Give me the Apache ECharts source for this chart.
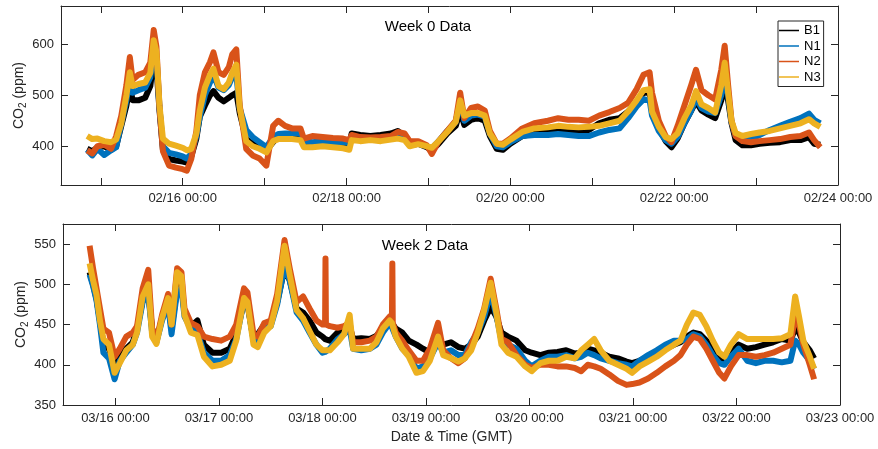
<!DOCTYPE html>
<html><head><meta charset="utf-8">
<script src="https://cdn.jsdelivr.net/npm/echarts@6/dist/echarts.min.js"></script>
<style>html,body{margin:0;padding:0;background:#fff}#c{width:878px;height:449px}</style>
</head><body><div id="c"></div>
<script>
// ---------- DATA ----------
const seriesNames = ['B1', 'N1', 'N2', 'N3'];
const seriesColors = ['#000000', '#0072BD', '#D95319', '#EDB120'];
const dataYear = 2021;

// Week 0: hours since 02/14 00:00 GMT
const week0Start = '02/14 00:00';
const week0Hours = [20,21.5,23,25,27,28.5,30,31.5,32.5,33.3,35,37,38.5,39.5,40.3,41.2,42.2,44,46,48,49.2,50.5,52,53,54.5,56,57,58.5,60,61.5,62.5,63.7,64.7,66.6,68.5,70.5,72.5,74.5,76,78,80,82.5,83.5,86,89,92,95,96.8,97.5,100,103,106,109,111,113,114.5,117,119.5,121,123,125.5,128,129.3,130.5,132.5,134.5,136.5,138,140,141.8,144,147.5,151,155,158,161,164,167,170,173,176,178.5,181,183,184.8,185.5,187.5,189.5,191.2,193,195,197,198.4,200,202,204,205.8,206.8,207.8,208.8,210,212,214.5,217,220,223,226,229,231.5,233,234.8];
const week0B1 = [395,390,398,400,393,400,440,480,520,490,490,495,518,572,555,470,393,375,372,370,368,380,415,458,480,500,508,495,488,495,500,505,465,414,405,400,392,408,420,418,418,418,410,405,408,407,405,405,425,422,420,422,425,430,420,402,405,398,392,405,425,440,470,442,452,455,450,420,395,393,405,420,425,428,432,432,430,432,445,452,455,468,485,505,505,470,435,410,398,415,445,470,488,470,462,455,490,517,490,445,412,402,402,405,407,408,412,412,418,405,403];
const week0N1 = [393,382,395,383,392,398,445,490,535,505,510,515,535,590,575,475,400,387,384,380,376,385,420,458,500,525,540,515,510,520,535,540,475,432,418,408,398,418,424,425,425,425,410,408,410,408,408,406,418,416,415,416,418,420,415,405,405,400,396,410,430,448,490,450,460,462,458,425,400,398,408,420,422,422,424,422,420,420,427,432,435,455,478,492,490,460,430,412,405,418,445,470,495,475,468,465,500,540,500,448,420,412,414,422,432,440,448,455,464,452,445];
const week0N2 = [392,386,400,403,395,420,460,520,575,530,540,545,564,628,595,475,390,362,358,355,352,375,430,500,545,565,584,545,540,555,580,590,480,395,382,376,362,440,450,440,435,435,415,420,418,416,415,412,422,418,417,418,420,428,425,410,410,402,385,410,430,450,505,455,475,478,470,430,405,405,415,435,445,450,455,452,452,450,460,467,475,485,512,540,545,505,450,420,408,440,480,520,550,510,500,492,550,597,520,450,420,410,408,410,412,414,418,420,427,412,398];
const week0N3 = [420,414,415,410,408,413,445,500,545,518,522,525,544,608,585,480,415,405,401,397,392,395,425,470,515,540,552,518,512,525,544,560,475,410,400,395,388,410,414,414,414,412,398,398,400,398,396,393,412,410,412,410,413,415,412,400,404,400,397,410,428,448,490,460,465,465,460,425,405,403,413,428,435,437,440,438,437,438,440,445,450,468,490,510,512,468,438,418,414,425,455,480,508,482,475,466,520,564,505,450,426,420,424,427,430,435,440,445,453,445,438];

// Week 2: hours since 03/15 00:00 GMT
const week2Start = '03/15 00:00';
const week2Hours = [18,18.8,19.6,20.4,21.2,22.5,23.8,25,26.5,28,29,30.3,31.6,32.5,33.5,34.8,36.2,37,38.3,39.3,40,41.5,43,44.5,46.5,48.5,50.5,52,53.8,54.6,56,57,58.5,60,61.5,63.2,64.4,66,67.5,69,70.6,72,72.6,72.7,72.8,73.7,75.5,77,78.3,79.1,81,83,84.5,86,87.6,88.1,88.2,88.3,89,90.5,92,93.8,95.3,96.9,98.8,100,101.8,103.5,105,106.5,108,109.5,111,112.3,113.5,115,117,119,120.5,122.5,124.5,126.5,128.5,130.5,132,133.5,135,136.5,138.5,140.5,142.5,143.8,145.5,147.5,149.5,151.5,153.5,155,156.5,158,159.5,161,162.5,164,165.2,166.7,168.5,170.5,172.5,174.5,176.5,178.5,180.5,181.6,182.5,183.5,185,186];
const week2B1 = [515,500,482,455,425,420,395,410,420,428,445,480,490,445,430,458,478,445,495,500,465,448,455,425,415,415,420,438,478,475,432,438,450,452,478,520,505,470,465,455,440,435,432,432,432,430,440,445,448,432,433,432,436,445,455,452,451,450,445,440,430,425,420,415,430,425,428,422,420,425,435,455,472,460,440,435,430,418,415,412,415,416,418,414,415,420,418,415,410,408,404,402,405,410,415,420,425,428,435,440,438,430,420,410,405,415,425,420,422,425,428,432,430,445,440,428,418,408];
const week2N1 = [512,498,480,450,415,408,382,405,415,425,440,478,488,440,428,455,475,438,492,495,460,445,440,415,405,405,412,432,480,478,430,430,445,448,475,522,505,465,455,440,425,415,416,416,417,420,432,438,445,420,418,420,425,440,452,447,446,444,435,420,412,395,398,408,428,415,418,412,412,428,440,460,490,462,430,425,420,405,398,405,410,410,412,408,410,415,412,408,405,402,400,398,405,412,418,425,430,430,432,438,435,425,412,402,400,410,420,405,402,405,405,403,405,430,425,415,405,395];
const week2N2 = [548,520,495,470,445,440,410,420,435,440,448,495,518,445,430,462,488,450,520,515,470,452,448,435,432,430,435,450,495,490,438,435,452,455,488,555,520,478,485,470,455,450,450,532,450,448,446,448,452,428,428,430,435,450,460,455,526,452,440,430,418,405,405,420,452,418,408,402,408,425,445,470,507,470,432,428,412,400,396,400,400,398,398,396,392,400,398,395,388,380,375,376,378,383,390,398,405,412,425,435,432,420,405,390,383,398,412,412,410,412,415,420,425,460,450,425,400,382];
const week2N3 = [526,505,487,455,432,425,390,402,418,425,440,485,500,435,426,458,483,450,515,510,462,440,437,410,398,400,405,430,483,478,425,422,440,448,480,548,512,468,458,442,425,418,418,418,418,418,428,438,462,420,420,420,428,445,455,452,450,448,435,420,410,390,392,405,435,412,408,404,408,418,440,468,502,465,425,415,410,398,392,402,405,405,410,408,418,425,432,418,405,400,395,390,398,404,410,418,425,430,450,465,462,448,430,415,410,425,438,432,432,432,432,433,438,485,460,430,410,395];

// Axis limits and ticks
const week0Range = ['02/14 12:20', '02/24 00:00'];
const week0DayTicks = ['02/15 00:00','02/16 00:00','02/17 00:00','02/18 00:00','02/19 00:00','02/20 00:00','02/21 00:00','02/22 00:00','02/23 00:00','02/24 00:00'];
const week0TickLabels = ['02/16 00:00','02/18 00:00','02/20 00:00','02/22 00:00','02/24 00:00'];
const week0YRange = [324, 675];
const week0YTicks = [400, 500, 600];

const week2Range = ['03/15 11:50', '03/23 00:00'];
const week2DayTicks = ['03/16 00:00','03/17 00:00','03/18 00:00','03/19 00:00','03/20 00:00','03/21 00:00','03/22 00:00','03/23 00:00'];
const week2TickLabels = ['03/16 00:00','03/17 00:00','03/18 00:00','03/19 00:00','03/20 00:00','03/21 00:00','03/22 00:00','03/23 00:00'];
const week2YRange = [350, 575];
const week2YTicks = [350, 400, 450, 500, 550];

const titles = ['Week 0 Data', 'Week 2 Data'];
const xAxisTitle = 'Date & Time (GMT)';

// ---------- BUILD ----------
const HOUR = 3600e3;
function parseStamp(s) {
  const m = s.match(/(\d+)\/(\d+) (\d+):(\d+)/);
  return Date.UTC(dataYear, +m[1] - 1, +m[2], +m[3], +m[4]);
}
function pad(n) { return String(n).padStart(2, '0'); }
function fmt(v) {
  const d = new Date(v);
  return pad(d.getUTCMonth() + 1) + '/' + pad(d.getUTCDate()) + ' ' + pad(d.getUTCHours()) + ':' + pad(d.getUTCMinutes());
}
function pairs(start, hours, vals) {
  const b = parseStamp(start);
  return hours.map((h, i) => [b + h * HOUR, vals[i]]);
}

const FONT = '"Liberation Sans", Arial, Helvetica, sans-serif';
const AX = '#262626';

function xAxes(grid, range, ticks, labels) {
  const common = {
    type: 'value', gridIndex: grid, scale: true,
    min: parseStamp(range[0]), max: parseStamp(range[1]),
    axisLine: { show: true, onZero: false, lineStyle: { color: AX, width: 1 } },
    splitLine: { show: false }
  };
  return [
    Object.assign({}, common, {
      position: 'bottom',
      axisTick: { show: true, inside: true, length: 7, customValues: ticks.map(parseStamp), lineStyle: { color: AX } },
      axisLabel: { show: true, customValues: labels.map(parseStamp), formatter: v => fmt(v), color: AX, fontSize: 13, fontFamily: FONT, margin: 7, hideOverlap: false }
    }),
    Object.assign({}, common, {
      position: 'top',
      axisTick: { show: true, inside: true, length: 7, customValues: ticks.map(parseStamp), lineStyle: { color: AX } },
      axisLabel: { show: false }
    })
  ];
}
function yAxes(grid, range, ticks) {
  const common = {
    type: 'value', gridIndex: grid, min: range[0], max: range[1],
    axisLine: { show: true, onZero: false, lineStyle: { color: AX, width: 1 } },
    splitLine: { show: false }
  };
  return [
    Object.assign({}, common, {
      position: 'left',
      axisTick: { show: true, inside: true, length: 7, customValues: ticks, lineStyle: { color: AX } },
      axisLabel: { show: true, customValues: ticks, color: AX, fontSize: 13, fontFamily: FONT, margin: 7 }
    }),
    Object.assign({}, common, {
      position: 'right',
      axisTick: { show: true, inside: true, length: 7, customValues: ticks, lineStyle: { color: AX } },
      axisLabel: { show: false }
    })
  ];
}

const week0Vals = [week0B1, week0N1, week0N2, week0N3];
const week2Vals = [week2B1, week2N1, week2N2, week2N3];
const series = [];
seriesNames.forEach((n, i) => {
  series.push({
    name: n, type: 'line', xAxisIndex: 0, yAxisIndex: 0, showSymbol: false, symbol: 'none',
    data: pairs(week0Start, week0Hours, week0Vals[i]),
    lineStyle: { color: seriesColors[i], width: 6, join: 'round' }, itemStyle: { color: seriesColors[i] }, z: 2 + i
  });
});
seriesNames.forEach((n, i) => {
  series.push({
    name: n, type: 'line', xAxisIndex: 2, yAxisIndex: 2, showSymbol: false, symbol: 'none',
    data: pairs(week2Start, week2Hours, week2Vals[i]),
    lineStyle: { color: seriesColors[i], width: 6, join: 'round' }, itemStyle: { color: seriesColors[i] }, z: 2 + i
  });
});

const ylabelRich = {
  a: { fontSize: 14, lineHeight: 18, fontFamily: FONT, fill: AX },
  s: { fontSize: 10, lineHeight: 10, fontFamily: FONT, fill: AX, verticalAlign: 'bottom' }
};

const option = {
  animation: false,
  backgroundColor: '#fff',
  grid: [
    { left: 61, top: 6, width: 777, height: 179 },
    { left: 63, top: 224, width: 777, height: 181 }
  ],
  xAxis: [].concat(xAxes(0, week0Range, week0DayTicks, week0TickLabels), xAxes(1, week2Range, week2DayTicks, week2TickLabels)),
  yAxis: [].concat(yAxes(0, week0YRange, week0YTicks), yAxes(1, week2YRange, week2YTicks)),
  legend: {
    orient: 'vertical', left: 778, top: 21,
    data: seriesNames,
    icon: 'rect', itemWidth: 20, itemHeight: 1.5, itemGap: 2.5,
    padding: [3, 3, 3, 1],
    borderColor: AX, borderWidth: 1, borderRadius: 0, backgroundColor: '#fff',
    textStyle: { fontSize: 13, fontFamily: FONT, color: '#000', lineHeight: 13 },
    selectedMode: false
  },
  series: series,
  graphic: [
    { type: 'text', x: 428, y: 27, style: { text: titles[0], fontSize: 15, fontFamily: FONT, fill: '#000', align: 'center', verticalAlign: 'middle' } },
    { type: 'text', x: 425, y: 246, style: { text: titles[1], fontSize: 15, fontFamily: FONT, fill: '#000', align: 'center', verticalAlign: 'middle' } },
    { type: 'text', x: 451.5, y: 437, style: { text: xAxisTitle, fontSize: 14, fontFamily: FONT, fill: AX, align: 'center', verticalAlign: 'middle' } },
    { type: 'text', x: 19, y: 95.5, rotation: Math.PI / 2, style: { text: '{a|CO}{s|2}{a| (ppm)}', rich: ylabelRich, align: 'center', verticalAlign: 'middle' } },
    { type: 'text', x: 21, y: 314.5, rotation: Math.PI / 2, style: { text: '{a|CO}{s|2}{a| (ppm)}', rich: ylabelRich, align: 'center', verticalAlign: 'middle' } }
  ]
};

const chart = echarts.init(document.getElementById('c'), null, { renderer: 'canvas' });
chart.setOption(option);
</script>
</body></html>
